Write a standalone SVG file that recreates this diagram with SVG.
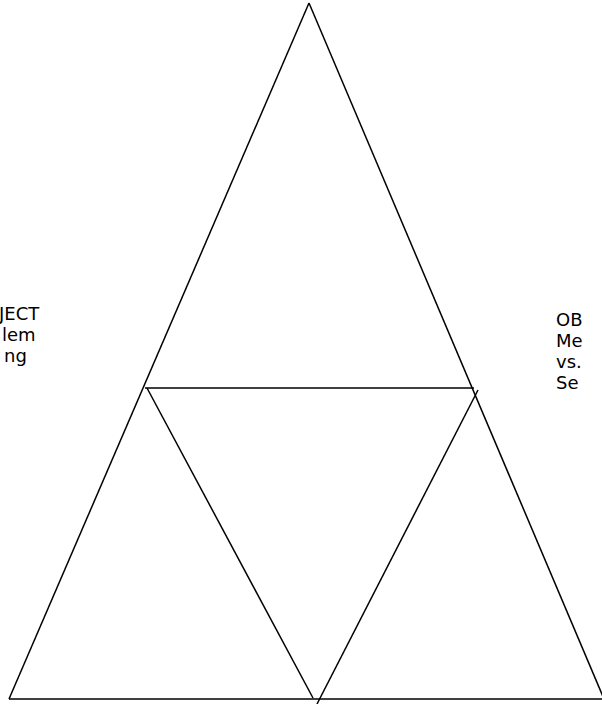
<svg xmlns="http://www.w3.org/2000/svg" width="602" height="704" viewBox="0 0 602 704">
<style>
.ln{stroke:#000;stroke-width:1.5;fill:none}
.t{font-family:"DejaVu Sans",Verdana,sans-serif;font-size:18px;fill:#000}
</style>
<rect width="602" height="704" fill="#fff"/>
<g id="connectors">
<line class="ln" x1="309" y1="3" x2="9" y2="699"/>
<line class="ln" x1="309" y1="3" x2="604" y2="699"/>
<line class="ln" x1="9" y1="699" x2="602" y2="699"/>
<line class="ln" x1="145" y1="388" x2="474" y2="388"/>
<line class="ln" x1="147" y1="388" x2="313" y2="698"/>
<line class="ln" x1="478" y1="390" x2="317" y2="704"/>
</g>
<g id="left-label">
<text class="t" x="-1" y="320">JECT</text>
<text class="t" x="2" y="341">lem</text>
<text class="t" x="4" y="362">ng</text>
</g>
<g id="right-label">
<text class="t" x="556" y="326">OB</text>
<text class="t" x="556" y="347">Me</text>
<text class="t" x="556" y="368">vs.</text>
<text class="t" x="556" y="389">Se</text>
</g>
</svg>
